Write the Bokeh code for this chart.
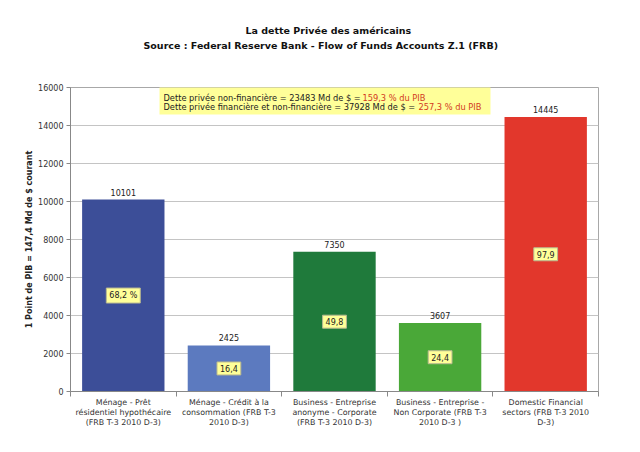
from bokeh.plotting import figure
from bokeh.models import Range1d, FixedTicker, Label, BoxAnnotation, ColumnDataSource, Title
from bokeh.core.properties import value
from bokeh.embed import file_html
from bokeh.resources import INLINE

# ---------------- data ----------------
categories = [
    "Ménage - Prêt\nrésidentiel hypothécaire\n(FRB T-3 2010 D-3)",
    "Ménage - Crédit à la\nconsommation (FRB T-3\n2010 D-3)",
    "Business - Entreprise\nanonyme - Corporate\n(FRB T-3 2010 D-3)",
    "Business - Entreprise -\nNon Corporate (FRB T-3\n2010 D-3 )",
    "Domestic Financial\nsectors (FRB T-3 2010\nD-3)",
]
values = [10101, 2425, 7350, 3607, 14445]
pct_labels = ["68,2 %", "16,4", "49,8", "24,4", "97,9"]
bar_colors = ["#3c4e98", "#5c7abf", "#1f7a3b", "#4aa838", "#e2372c"]
y_ticks = [0, 2000, 4000, 6000, 8000, 10000, 12000, 14000, 16000]

title_lines = ["La dette Privée des américains",
               "Source : Federal Reserve Bank - Flow of Funds Accounts Z.1 (FRB)"]
note1_black = "Dette privée non-financière = 23483 Md de $ = "
note1_red = "159,3 % du PIB"
note2_black = "Dette privée financière et non-financière = 37928 Md de $ = "
note2_red = "257,3 % du PIB"
y_label = "1 Point de PIB = 147,4 Md de $ courant"

FONT = "DejaVu Sans"
N = len(categories)
YMAX = 16000

# frame geometry (picture pixels, for placing annotations)
W, H = 624, 436
FL, FR, FT, FB = 70, 598, 87, 391
def dx(px):
    return (px - FL) / (FR - FL) * N
def dy(py):
    return (FB - py) / (FB - FT) * YMAX

xs = [i + 0.5 for i in range(N)]
src = ColumnDataSource(dict(
    x=xs, v=values, half=[v / 2 for v in values],
    vtxt=[str(v) for v in values], pct=pct_labels, c=bar_colors))

p = figure(width=W, height=H, x_range=Range1d(0, N), y_range=Range1d(0, YMAX),
           output_backend="svg", toolbar_location=None,
           min_border_left=FL, min_border_right=W - FR, min_border_top=FT, min_border_bottom=H - FB)
p.background_fill_color = "white"
p.border_fill_color = "white"
p.outline_line_color = "#a8a8a8"

p.vbar(x="x", top="v", width=0.78, fill_color="c", line_color=None, source=src)

# values above bars
p.text(x="x", y="v", text="vtxt", source=src, text_align="center", text_baseline="bottom",
       y_offset=-4, text_font=value(FONT), text_font_size="8px", text_color="#222222")
# percentage boxes
p.text(x="x", y="half", text="pct", source=src, text_align="center", text_baseline="middle",
       text_font=value(FONT), text_font_size="8px", text_color="#222222",
       background_fill_color="#ffff99", border_line_color="#b8b890", padding=3)

# axes
p.yaxis.ticker = FixedTicker(ticks=y_ticks)
p.yaxis.axis_label = y_label
p.yaxis.axis_label_text_font = FONT
p.yaxis.axis_label_text_font_size = "8px"
p.yaxis.axis_label_text_font_style = "bold"
p.yaxis.axis_label_text_color = "#222222"
p.yaxis.axis_label_standoff = 1
p.yaxis.major_label_text_font = FONT
p.yaxis.major_label_text_font_size = "8px"
p.yaxis.major_label_text_color = "#333333"
p.yaxis.major_tick_out = 4
p.yaxis.major_tick_in = 0
p.yaxis.minor_tick_out = 0
p.yaxis.minor_tick_in = 0
p.yaxis.axis_line_color = "#888888"
p.yaxis.major_tick_line_color = "#888888"
p.yaxis.major_label_standoff = 3

p.xaxis.ticker = FixedTicker(ticks=xs, minor_ticks=list(range(N + 1)))
p.xaxis.major_label_overrides = {x: c for x, c in zip(xs, categories)}
p.xaxis.major_label_text_font = FONT
p.xaxis.major_label_text_font_size = "7.9px"
p.xaxis.major_label_text_color = "#333333"
p.xaxis.major_label_text_line_height = 1.15
p.xaxis.major_tick_out = 0
p.xaxis.major_tick_in = 0
p.xaxis.minor_tick_out = 5
p.xaxis.minor_tick_in = 0
p.xaxis.minor_tick_line_color = "#888888"
p.xaxis.axis_line_color = "#888888"
p.xaxis.major_label_standoff = 1

p.xgrid.grid_line_color = None
p.ygrid.ticker = FixedTicker(ticks=y_ticks)
p.ygrid.grid_line_color = "#c4c4c4"

# note box
p.add_layout(BoxAnnotation(left=dx(159), right=dx(490), bottom=dy(114), top=dy(86),
                           fill_color="#ffff99", fill_alpha=1.0, line_color=None, level="underlay"))
for txt_b, txt_r, xr, yy in [(note1_black, note1_red, 362, 97), (note2_black, note2_red, 418, 106)]:
    p.add_layout(Label(x=dx(163), y=dy(yy), text=txt_b, text_align="left", text_baseline="middle",
                       text_font=FONT, text_font_size="8.25px", text_color="#222222"))
    p.add_layout(Label(x=dx(xr), y=dy(yy), text=txt_r, text_align="left", text_baseline="middle",
                       text_font=FONT, text_font_size="8.25px", text_color="#d23a1e"))

# title: spacer nearest the frame, then second line, then first line (outermost = p.title)
p.add_layout(Title(text=" ", text_font_size="1px", standoff=31), "above")
p.add_layout(Title(text=title_lines[1], align="left", offset=73, standoff=5,
                   text_font=FONT, text_font_size="9.5px", text_font_style="bold",
                   text_color="#111111"), "above")
p.title.text = title_lines[0]
p.title.align = "left"
p.title.offset = 175
p.title.standoff = 0
p.title.text_font = FONT
p.title.text_font_size = "9.5px"
p.title.text_font_style = "bold"
p.title.text_color = "#111111"

open("out.html", "w").write(file_html(p, INLINE))
